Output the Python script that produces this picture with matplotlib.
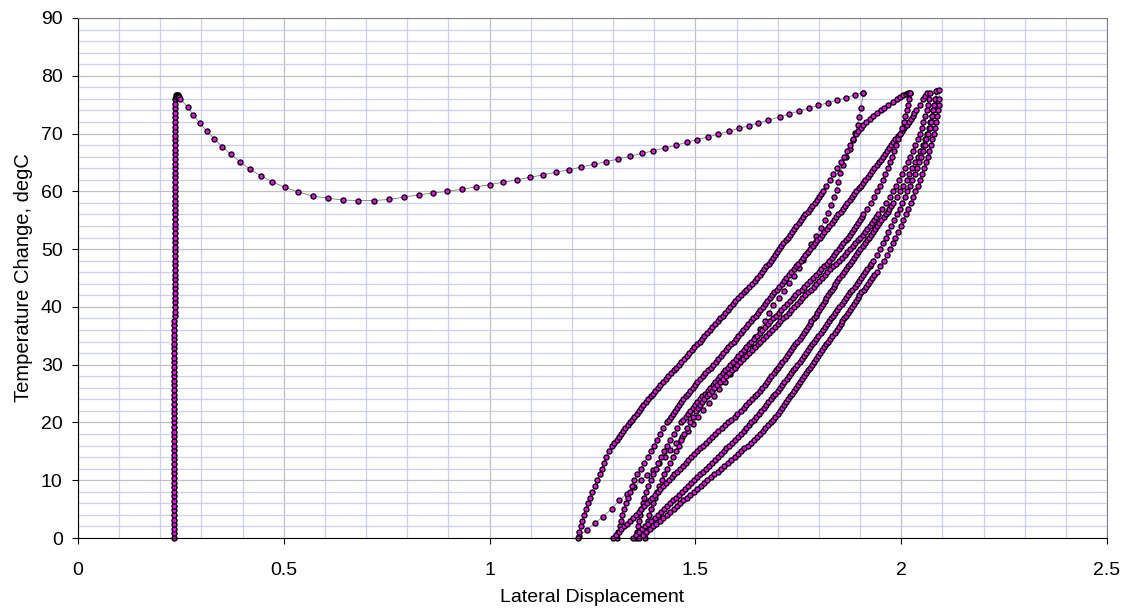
# temperature change vs lateral displacement, Excel-style scatter with joined markers
import numpy as np
import matplotlib.pyplot as plt
from matplotlib.ticker import MultipleLocator, FuncFormatter

plt.rcParams['font.family'] = ['Liberation Sans', 'DejaVu Sans']

# heating at fixed displacement
column_temp = [0.0, 0.8, 1.6, 2.4, 3.2, 4.0, 4.8, 5.6, 6.4, 7.2, 8.0, 8.8,
               9.6, 10.4, 11.2, 12.0, 12.8, 13.6, 14.4, 15.2, 16.0, 16.8, 17.6, 18.4,
               19.2, 20.0, 20.8, 21.6, 22.4, 23.2, 24.0, 24.8, 25.6, 26.4, 27.2, 28.0,
               28.8, 29.6, 30.4, 31.2, 32.0, 32.8, 33.6, 34.4, 35.2, 36.0, 36.8, 37.6,
               38.4, 39.2, 40.0, 40.8, 41.6, 42.4, 43.2, 44.0, 44.8, 45.6, 46.4, 47.2,
               48.0, 48.8, 49.6, 50.4, 51.2, 52.0, 52.8, 53.6, 54.4, 55.2, 56.0, 56.8,
               57.6, 58.4, 59.2, 60.0, 60.8, 61.6, 62.4, 63.2, 64.0, 64.8, 65.6, 66.4,
               67.2, 68.0, 68.8, 69.6, 70.4, 71.2, 72.0, 72.8, 73.6, 74.4, 75.2, 76.0]
column_disp = [0.232, 0.232, 0.232, 0.232, 0.232, 0.232, 0.232, 0.232, 0.232, 0.232, 0.232, 0.232,
               0.233, 0.233, 0.233, 0.233, 0.233, 0.233, 0.233, 0.233, 0.233, 0.233, 0.233, 0.233,
               0.234, 0.234, 0.234, 0.234, 0.234, 0.234, 0.234, 0.234, 0.234, 0.234, 0.234, 0.234,
               0.234, 0.234, 0.234, 0.234, 0.234, 0.234, 0.234, 0.234, 0.234, 0.234, 0.234, 0.234,
               0.235, 0.235, 0.235, 0.235, 0.235, 0.235, 0.235, 0.235, 0.235, 0.235, 0.235, 0.235,
               0.235, 0.235, 0.235, 0.235, 0.235, 0.235, 0.235, 0.235, 0.235, 0.235, 0.235, 0.235,
               0.236, 0.236, 0.236, 0.236, 0.236, 0.236, 0.236, 0.236, 0.236, 0.236, 0.236, 0.236,
               0.236, 0.236, 0.236, 0.236, 0.236, 0.236, 0.236, 0.236, 0.236, 0.236, 0.236, 0.236]

# (displacement, degC) pairs
sweep = [(0.237, 76.3), (0.238, 76.6), (0.240, 76.7), (0.242, 76.6), (0.244, 76.5), (0.246, 76.3),
         (0.248, 76.0), (0.266, 74.6), (0.280, 73.2), (0.296, 71.8), (0.313, 70.4), (0.331, 69.1),
         (0.351, 67.7), (0.371, 66.4), (0.394, 65.1), (0.418, 63.8), (0.444, 62.7), (0.471, 61.7),
         (0.502, 60.7), (0.535, 59.9), (0.570, 59.2), (0.607, 58.8), (0.643, 58.5), (0.680, 58.4),
         (0.718, 58.4), (0.756, 58.6), (0.792, 59.0), (0.828, 59.4), (0.862, 59.7), (0.897, 60.0),
         (0.932, 60.36), (0.966, 60.75), (1.000, 61.16), (1.033, 61.57), (1.066, 62.0), (1.098, 62.42),
         (1.130, 62.86), (1.162, 63.31), (1.193, 63.76), (1.223, 64.2), (1.254, 64.68), (1.283, 65.13),
         (1.313, 65.61), (1.341, 66.07), (1.370, 66.55), (1.398, 67.03), (1.425, 67.5), (1.452, 67.97),
         (1.479, 68.47), (1.505, 68.95), (1.531, 69.43), (1.556, 69.91), (1.581, 70.39), (1.606, 70.89),
         (1.630, 71.36), (1.653, 71.82), (1.676, 72.3), (1.706, 72.9), (1.728, 73.4), (1.752, 73.9),
         (1.775, 74.4), (1.799, 74.9), (1.821, 75.3), (1.845, 75.8), (1.866, 76.2), (1.887, 76.7),
         (1.908, 77.1)]

return_path = [(1.908, 77.1), (1.902, 74.4), (1.898, 72.9), (1.894, 71.5), (1.888, 70.1), (1.882, 68.8),
               (1.875, 67.4), (1.866, 66.0), (1.858, 64.6), (1.852, 63.2), (1.847, 61.7), (1.843, 60.3),
               (1.837, 59.0), (1.830, 57.7), (1.822, 56.3), (1.814, 55.0), (1.804, 53.6), (1.793, 52.2),
               (1.782, 50.8), (1.771, 49.4), (1.761, 48.1), (1.751, 46.8), (1.740, 45.4), (1.728, 44.1),
               (1.715, 42.8), (1.702, 41.6), (1.689, 40.3), (1.678, 38.9), (1.668, 37.5), (1.657, 36.2),
               (1.645, 34.8), (1.633, 33.5), (1.620, 32.2), (1.607, 30.9), (1.595, 29.6), (1.583, 28.3),
               (1.571, 27.0), (1.558, 25.8), (1.545, 24.5), (1.532, 23.3), (1.519, 22.1), (1.506, 20.9),
               (1.494, 19.8), (1.481, 18.6), (1.467, 17.5), (1.453, 16.4), (1.439, 15.2), (1.425, 14.0),
               (1.411, 12.9), (1.397, 11.8), (1.383, 10.9), (1.368, 10.0), (1.351, 8.8), (1.333, 7.6),
               (1.315, 6.5), (1.297, 5.1), (1.276, 3.7), (1.256, 2.6), (1.236, 1.4), (1.218, 0.3)]

cycle_a = [(1.215, 0), (1.218, 1), (1.221, 2), (1.225, 3), (1.229, 4), (1.233, 5), (1.238, 6),
           (1.243, 7), (1.249, 8), (1.255, 9), (1.262, 10), (1.267, 11), (1.273, 12), (1.278, 13),
           (1.283, 14), (1.290, 15), (1.298, 16), (1.303, 16.5), (1.309, 17), (1.314, 17.5),
           (1.320, 18), (1.325, 18.5), (1.330, 19), (1.336, 19.5), (1.341, 20), (1.346, 20.5),
           (1.351, 21), (1.357, 21.5), (1.362, 22), (1.368, 22.5), (1.373, 23), (1.379, 23.5),
           (1.385, 24), (1.391, 24.5), (1.396, 25), (1.402, 25.5), (1.408, 26), (1.415, 26.5),
           (1.421, 27), (1.428, 27.5), (1.434, 28), (1.441, 28.5), (1.447, 29), (1.454, 29.5),
           (1.460, 30), (1.466, 30.5), (1.472, 31), (1.479, 31.5), (1.485, 32), (1.491, 32.5),
           (1.497, 33), (1.504, 33.5), (1.510, 34), (1.516, 34.5), (1.522, 35), (1.529, 35.5),
           (1.535, 36), (1.541, 36.5), (1.547, 37), (1.554, 37.5), (1.560, 38), (1.566, 38.5),
           (1.572, 39), (1.579, 39.5), (1.585, 40), (1.591, 40.5), (1.597, 41), (1.604, 41.5),
           (1.610, 42), (1.617, 42.5), (1.624, 43), (1.631, 43.5), (1.638, 44), (1.644, 44.5),
           (1.650, 45), (1.656, 45.5), (1.662, 46), (1.667, 46.5), (1.672, 47), (1.678, 47.5),
           (1.683, 48), (1.688, 48.5), (1.693, 49), (1.699, 49.5), (1.704, 50), (1.709, 50.5),
           (1.714, 51), (1.719, 51.5), (1.724, 52), (1.729, 52.5), (1.734, 53), (1.740, 53.5),
           (1.745, 54), (1.751, 54.5), (1.756, 55), (1.762, 55.5), (1.767, 56), (1.773, 56.5),
           (1.778, 57), (1.784, 57.5), (1.790, 58), (1.795, 58.5), (1.800, 59), (1.805, 59.5),
           (1.810, 60), (1.818, 61), (1.826, 62), (1.835, 63), (1.845, 64), (1.853, 65),
           (1.862, 66), (1.869, 67), (1.876, 68), (1.883, 69), (1.890, 70), (1.896, 70.5),
           (1.902, 71), (1.908, 71.5), (1.915, 72), (1.923, 72.5), (1.932, 73), (1.941, 73.5),
           (1.950, 74), (1.959, 74.5), (1.968, 75), (1.979, 75.5), (1.990, 76), (1.998, 76.3),
           (2.005, 76.6), (2.012, 76.8), (2.017, 77.0), (2.021, 77.1)]

cycle_b = [(1.310, 0), (1.313, 1), (1.316, 2), (1.319, 3), (1.322, 4), (1.326, 5), (1.331, 6),
           (1.336, 7), (1.341, 8), (1.346, 9), (1.352, 10), (1.359, 11), (1.367, 12), (1.375, 13),
           (1.384, 14), (1.392, 15), (1.400, 16), (1.406, 17), (1.413, 18), (1.421, 19),
           (1.430, 20), (1.435, 20.5), (1.440, 21), (1.445, 21.5), (1.450, 22), (1.455, 22.5),
           (1.460, 23), (1.465, 23.5), (1.470, 24), (1.476, 24.5), (1.481, 25), (1.487, 25.5),
           (1.493, 26), (1.499, 26.5), (1.505, 27), (1.512, 27.5), (1.518, 28), (1.524, 28.5),
           (1.530, 29), (1.537, 29.5), (1.543, 30), (1.549, 30.5), (1.555, 31), (1.562, 31.5),
           (1.568, 32), (1.574, 32.5), (1.580, 33), (1.587, 33.5), (1.593, 34), (1.599, 34.5),
           (1.604, 35), (1.610, 35.5), (1.616, 36), (1.622, 36.5), (1.628, 37), (1.634, 37.5),
           (1.640, 38), (1.646, 38.5), (1.651, 39), (1.657, 39.5), (1.663, 40), (1.669, 40.5),
           (1.674, 41), (1.680, 41.5), (1.686, 42), (1.692, 42.5), (1.698, 43), (1.704, 43.5),
           (1.710, 44), (1.716, 44.5), (1.721, 45), (1.727, 45.5), (1.733, 46), (1.739, 46.5),
           (1.744, 47), (1.750, 47.5), (1.756, 48), (1.762, 48.5), (1.767, 49), (1.773, 49.5),
           (1.779, 50), (1.785, 50.5), (1.790, 51), (1.796, 51.5), (1.802, 52), (1.808, 52.5),
           (1.813, 53), (1.819, 53.5), (1.825, 54), (1.831, 54.5), (1.836, 55), (1.842, 55.5),
           (1.847, 56), (1.853, 56.5), (1.858, 57), (1.864, 57.5), (1.869, 58), (1.875, 58.5),
           (1.880, 59), (1.886, 59.5), (1.891, 60), (1.897, 60.5), (1.902, 61), (1.908, 61.5),
           (1.913, 62), (1.919, 62.5), (1.924, 63), (1.930, 63.5), (1.935, 64), (1.940, 64.5),
           (1.945, 65), (1.950, 65.5), (1.955, 66), (1.960, 66.5), (1.965, 67), (1.970, 67.5),
           (1.975, 68), (1.980, 68.5), (1.986, 69), (1.991, 69.5), (1.996, 70), (2.002, 70.5),
           (2.007, 71), (2.013, 71.5), (2.018, 72), (2.023, 72.5), (2.028, 73), (2.032, 73.5),
           (2.037, 74), (2.045, 75), (2.053, 76), (2.058, 76.5), (2.062, 77)]

cycle_c = [(1.356, 0), (1.358, 1), (1.360, 2), (1.362, 3), (1.365, 4), (1.368, 5), (1.372, 6),
           (1.376, 7), (1.381, 8), (1.386, 9), (1.392, 10), (1.398, 11), (1.404, 12), (1.410, 13),
           (1.417, 14), (1.424, 15), (1.431, 16), (1.439, 17), (1.447, 18), (1.456, 19),
           (1.465, 20), (1.471, 20.5), (1.476, 21), (1.482, 21.5), (1.487, 22), (1.493, 22.5),
           (1.499, 23), (1.505, 23.5), (1.511, 24), (1.517, 24.5), (1.524, 25), (1.530, 25.5),
           (1.536, 26), (1.542, 26.5), (1.548, 27), (1.554, 27.5), (1.560, 28), (1.566, 28.5),
           (1.573, 29), (1.579, 29.5), (1.585, 30), (1.591, 30.5), (1.598, 31), (1.604, 31.5),
           (1.610, 32), (1.617, 32.5), (1.623, 33), (1.630, 33.5), (1.636, 34), (1.643, 34.5),
           (1.649, 35), (1.656, 35.5), (1.662, 36), (1.669, 36.5), (1.676, 37), (1.682, 37.5),
           (1.689, 38), (1.696, 38.5), (1.703, 39), (1.709, 39.5), (1.716, 40), (1.723, 40.5),
           (1.730, 41), (1.736, 41.5), (1.743, 42), (1.750, 42.5), (1.758, 43), (1.765, 43.5),
           (1.772, 44), (1.779, 44.5), (1.786, 45), (1.793, 45.5), (1.800, 46), (1.806, 46.5),
           (1.813, 47), (1.819, 47.5), (1.825, 48), (1.831, 48.5), (1.837, 49), (1.842, 49.5),
           (1.848, 50), (1.854, 50.5), (1.859, 51), (1.865, 51.5), (1.870, 52), (1.875, 52.5),
           (1.880, 53), (1.885, 53.5), (1.890, 54), (1.895, 54.5), (1.899, 55), (1.904, 55.5),
           (1.908, 56), (1.917, 57), (1.926, 58), (1.934, 59), (1.942, 60), (1.949, 61),
           (1.955, 62), (1.961, 63), (1.967, 64), (1.973, 65), (1.978, 66), (1.983, 67),
           (1.988, 68), (1.993, 69), (1.998, 70), (2.002, 71), (2.006, 72), (2.010, 73),
           (2.013, 74), (2.016, 75), (2.018, 76), (2.021, 77)]

cycle_d = [(1.378, 0), (1.380, 1), (1.382, 2), (1.385, 3), (1.388, 4), (1.392, 5), (1.396, 6),
           (1.401, 7), (1.406, 8), (1.412, 9), (1.418, 10), (1.424, 11), (1.431, 12), (1.438, 13),
           (1.445, 14), (1.452, 15), (1.459, 16), (1.466, 17), (1.473, 18), (1.480, 19),
           (1.487, 20), (1.494, 21), (1.502, 22), (1.507, 22.5), (1.512, 23), (1.517, 23.5),
           (1.522, 24), (1.528, 24.5), (1.534, 25), (1.540, 25.5), (1.546, 26), (1.553, 26.5),
           (1.560, 27), (1.567, 27.5), (1.574, 28), (1.581, 28.5), (1.588, 29), (1.595, 29.5),
           (1.602, 30), (1.609, 30.5), (1.616, 31), (1.623, 31.5), (1.630, 32), (1.637, 32.5),
           (1.644, 33), (1.651, 33.5), (1.658, 34), (1.665, 34.5), (1.672, 35), (1.679, 35.5),
           (1.686, 36), (1.693, 36.5), (1.700, 37), (1.706, 37.5), (1.713, 38), (1.720, 38.5),
           (1.727, 39), (1.733, 39.5), (1.740, 40), (1.747, 40.5), (1.754, 41), (1.760, 41.5),
           (1.767, 42), (1.774, 42.5), (1.781, 43), (1.787, 43.5), (1.794, 44), (1.801, 44.5),
           (1.807, 45), (1.814, 45.5), (1.820, 46), (1.827, 46.5), (1.835, 47), (1.842, 47.5),
           (1.849, 48), (1.856, 48.5), (1.863, 49), (1.869, 49.5), (1.876, 50), (1.882, 50.5),
           (1.888, 51), (1.894, 51.5), (1.900, 52), (1.906, 52.5), (1.912, 53), (1.917, 53.5),
           (1.923, 54), (1.928, 54.5), (1.934, 55), (1.939, 55.5), (1.944, 56), (1.954, 57),
           (1.963, 58), (1.972, 59), (1.980, 60), (1.988, 61), (1.995, 62), (2.002, 63),
           (2.009, 64), (2.016, 65), (2.022, 66), (2.028, 67), (2.034, 68), (2.040, 69),
           (2.045, 70), (2.050, 71), (2.054, 72), (2.058, 73), (2.062, 74), (2.065, 75),
           (2.068, 76), (2.070, 77)]

cycle_e = [(1.300, 0), (1.307, 0.5), (1.314, 1), (1.320, 1.5), (1.327, 2), (1.334, 2.5), (1.341, 3),
           (1.348, 3.5), (1.355, 4), (1.362, 4.5), (1.369, 5), (1.375, 5.5), (1.382, 6), (1.389, 6.5),
           (1.395, 7), (1.402, 7.5), (1.408, 8), (1.415, 8.5), (1.422, 9), (1.428, 9.5), (1.435, 10),
           (1.442, 10.5), (1.449, 11), (1.455, 11.5), (1.462, 12), (1.469, 12.5), (1.476, 13),
           (1.483, 13.5), (1.490, 14), (1.497, 14.5), (1.504, 15), (1.511, 15.5), (1.518, 16),
           (1.526, 16.5), (1.533, 17), (1.541, 17.5), (1.548, 18), (1.556, 18.5), (1.564, 19),
           (1.571, 19.5), (1.579, 20), (1.587, 20.5), (1.595, 21), (1.602, 21.5), (1.610, 22),
           (1.617, 22.5), (1.624, 23), (1.631, 23.5), (1.638, 24), (1.644, 24.5), (1.650, 25),
           (1.656, 25.5), (1.662, 26), (1.668, 26.5), (1.673, 27), (1.679, 27.5), (1.684, 28),
           (1.690, 28.5), (1.695, 29), (1.701, 29.5), (1.706, 30), (1.711, 30.5), (1.717, 31),
           (1.722, 31.5), (1.727, 32), (1.732, 32.5), (1.738, 33), (1.743, 33.5), (1.748, 34),
           (1.753, 34.5), (1.758, 35), (1.763, 35.5), (1.768, 36), (1.773, 36.5), (1.778, 37),
           (1.782, 37.5), (1.787, 38), (1.792, 38.5), (1.796, 39), (1.801, 39.5), (1.805, 40),
           (1.809, 40.5), (1.814, 41), (1.818, 41.5), (1.822, 42), (1.827, 42.5), (1.831, 43),
           (1.836, 43.5), (1.840, 44), (1.845, 44.5), (1.850, 45), (1.855, 45.5), (1.860, 46),
           (1.865, 46.5), (1.870, 47), (1.875, 47.5), (1.880, 48), (1.885, 48.5), (1.891, 49),
           (1.896, 49.5), (1.901, 50), (1.906, 50.5), (1.911, 51), (1.916, 51.5), (1.921, 52),
           (1.926, 52.5), (1.932, 53), (1.937, 53.5), (1.942, 54), (1.947, 54.5), (1.952, 55),
           (1.957, 55.5), (1.962, 56), (1.967, 56.5), (1.971, 57), (1.976, 57.5), (1.980, 58),
           (1.989, 59), (1.997, 60), (2.005, 61), (2.013, 62), (2.020, 63), (2.027, 64),
           (2.034, 65), (2.040, 66), (2.046, 67), (2.052, 68), (2.057, 69), (2.062, 70),
           (2.067, 71), (2.071, 72), (2.075, 73), (2.078, 74), (2.081, 75), (2.084, 76),
           (2.088, 77.3)]

cycle_f = [(1.348, 0), (1.356, 0.5), (1.363, 1), (1.371, 1.5), (1.378, 2), (1.386, 2.5), (1.393, 3),
           (1.401, 3.5), (1.408, 4), (1.416, 4.5), (1.423, 5), (1.431, 5.5), (1.438, 6), (1.446, 6.5),
           (1.453, 7), (1.461, 7.5), (1.468, 8), (1.475, 8.5), (1.483, 9), (1.490, 9.5), (1.497, 10),
           (1.504, 10.5), (1.512, 11), (1.519, 11.5), (1.526, 12), (1.533, 12.5), (1.541, 13),
           (1.548, 13.5), (1.555, 14), (1.562, 14.5), (1.569, 15), (1.575, 15.5), (1.582, 16),
           (1.589, 16.5), (1.596, 17), (1.603, 17.5), (1.610, 18), (1.617, 18.5), (1.623, 19),
           (1.630, 19.5), (1.636, 20), (1.642, 20.5), (1.648, 21), (1.654, 21.5), (1.660, 22),
           (1.666, 22.5), (1.672, 23), (1.677, 23.5), (1.683, 24), (1.689, 24.5), (1.694, 25),
           (1.700, 25.5), (1.705, 26), (1.711, 26.5), (1.716, 27), (1.722, 27.5), (1.727, 28),
           (1.732, 28.5), (1.738, 29), (1.743, 29.5), (1.748, 30), (1.753, 30.5), (1.759, 31),
           (1.764, 31.5), (1.769, 32), (1.774, 32.5), (1.779, 33), (1.784, 33.5), (1.789, 34),
           (1.794, 34.5), (1.799, 35), (1.804, 35.5), (1.809, 36), (1.814, 36.5), (1.819, 37),
           (1.824, 37.5), (1.829, 38), (1.834, 38.5), (1.840, 39), (1.845, 39.5), (1.850, 40),
           (1.855, 40.5), (1.860, 41), (1.865, 41.5), (1.870, 42), (1.876, 42.5), (1.881, 43),
           (1.887, 43.5), (1.892, 44), (1.897, 44.5), (1.903, 45), (1.908, 45.5), (1.913, 46),
           (1.918, 46.5), (1.923, 47), (1.927, 47.5), (1.932, 48), (1.940, 49), (1.948, 50),
           (1.955, 51), (1.962, 52), (1.969, 53), (1.976, 54), (1.983, 55), (1.990, 56),
           (1.997, 57), (2.003, 58), (2.009, 59), (2.015, 60), (2.021, 61), (2.027, 62),
           (2.033, 63), (2.038, 64), (2.043, 65), (2.048, 66), (2.053, 67), (2.057, 68),
           (2.061, 69), (2.065, 70), (2.069, 71), (2.072, 72), (2.075, 73), (2.078, 74),
           (2.080, 75), (2.082, 76), (2.085, 77.4)]

cycle_g = [(1.364, 0), (1.372, 0.5), (1.381, 1), (1.389, 1.5), (1.397, 2), (1.405, 2.5), (1.414, 3),
           (1.422, 3.5), (1.430, 4), (1.438, 4.5), (1.447, 5), (1.455, 5.5), (1.463, 6), (1.471, 6.5),
           (1.480, 7), (1.488, 7.5), (1.496, 8), (1.504, 8.5), (1.513, 9), (1.521, 9.5), (1.529, 10),
           (1.537, 10.5), (1.546, 11), (1.554, 11.5), (1.562, 12), (1.570, 12.5), (1.579, 13),
           (1.587, 13.5), (1.595, 14), (1.603, 14.5), (1.611, 15), (1.619, 15.5), (1.627, 16),
           (1.635, 16.5), (1.642, 17), (1.650, 17.5), (1.657, 18), (1.664, 18.5), (1.670, 19),
           (1.677, 19.5), (1.683, 20), (1.689, 20.5), (1.694, 21), (1.700, 21.5), (1.705, 22),
           (1.710, 22.5), (1.715, 23), (1.720, 23.5), (1.725, 24), (1.730, 24.5), (1.735, 25),
           (1.740, 25.5), (1.745, 26), (1.750, 26.5), (1.755, 27), (1.759, 27.5), (1.764, 28),
           (1.769, 28.5), (1.774, 29), (1.779, 29.5), (1.784, 30), (1.789, 30.5), (1.793, 31),
           (1.798, 31.5), (1.803, 32), (1.808, 32.5), (1.813, 33), (1.818, 33.5), (1.823, 34),
           (1.828, 34.5), (1.833, 35), (1.838, 35.5), (1.843, 36), (1.848, 36.5), (1.853, 37),
           (1.857, 37.5), (1.862, 38), (1.867, 38.5), (1.871, 39), (1.876, 39.5), (1.880, 40),
           (1.885, 40.5), (1.889, 41), (1.894, 41.5), (1.898, 42), (1.903, 42.5), (1.909, 43),
           (1.914, 43.5), (1.919, 44), (1.924, 44.5), (1.930, 45), (1.935, 45.5), (1.940, 46),
           (1.949, 47), (1.958, 48), (1.965, 49), (1.972, 50), (1.979, 51), (1.986, 52),
           (1.993, 53), (1.999, 54), (2.005, 55), (2.011, 56), (2.017, 57), (2.023, 58),
           (2.029, 59), (2.034, 60), (2.040, 61), (2.045, 62), (2.050, 63), (2.055, 64),
           (2.060, 65), (2.064, 66), (2.068, 67), (2.072, 68), (2.076, 69), (2.079, 70),
           (2.082, 71), (2.085, 72), (2.087, 73), (2.089, 74), (2.091, 75), (2.092, 76),
           (2.093, 77.5)]

fig = plt.figure(figsize=(11.34, 6.16), dpi=100)
ax = fig.add_axes([0.0688, 0.1266, 0.9074, 0.8442])

style = dict(color='#808080', lw=0.6, marker='o', ms=3.6, mfc='#ff00ff',
             mec='black', mew=1.0, clip_on=False)

ax.plot(column_disp, column_temp, **style)
for path in [sweep, return_path, cycle_a, cycle_b, cycle_c, cycle_d,
             cycle_e, cycle_f, cycle_g]:
    xy = np.array(path)
    ax.plot(xy[:, 0], xy[:, 1], **style)

ax.set_xlim(0, 2.5)
ax.set_ylim(0, 90)
ax.xaxis.set_major_locator(MultipleLocator(0.5))
ax.xaxis.set_minor_locator(MultipleLocator(0.1))
ax.yaxis.set_major_locator(MultipleLocator(10))
ax.yaxis.set_minor_locator(MultipleLocator(2))
ax.xaxis.set_major_formatter(FuncFormatter(lambda v, p: '%g' % v))

ax.set_axisbelow(True)
ax.grid(which='minor', color='#ccccff', lw=0.9)
ax.grid(which='major', color='#c0c0c0', lw=0.9)

ax.tick_params(which='minor', length=0)
ax.tick_params(axis='x', which='major', direction='out', length=4, width=0.8,
               labelsize=14, pad=13)
ax.tick_params(axis='y', which='major', direction='out', length=4, width=0.8,
               labelsize=14, pad=7)
for side in ['top', 'right']:
    ax.spines[side].set_color('#808080')
    ax.spines[side].set_linewidth(0.8)
for side in ['left', 'bottom']:
    ax.spines[side].set_color('black')
    ax.spines[side].set_linewidth(0.8)

ax.set_xlabel('Lateral Displacement', fontsize=14)
ax.set_ylabel('Temperature Change, degC', fontsize=14.5)
ax.xaxis.set_label_coords(0.5, -0.098)
ax.yaxis.set_label_coords(-0.044, 0.5)

fig.savefig('out.png', dpi=100)
